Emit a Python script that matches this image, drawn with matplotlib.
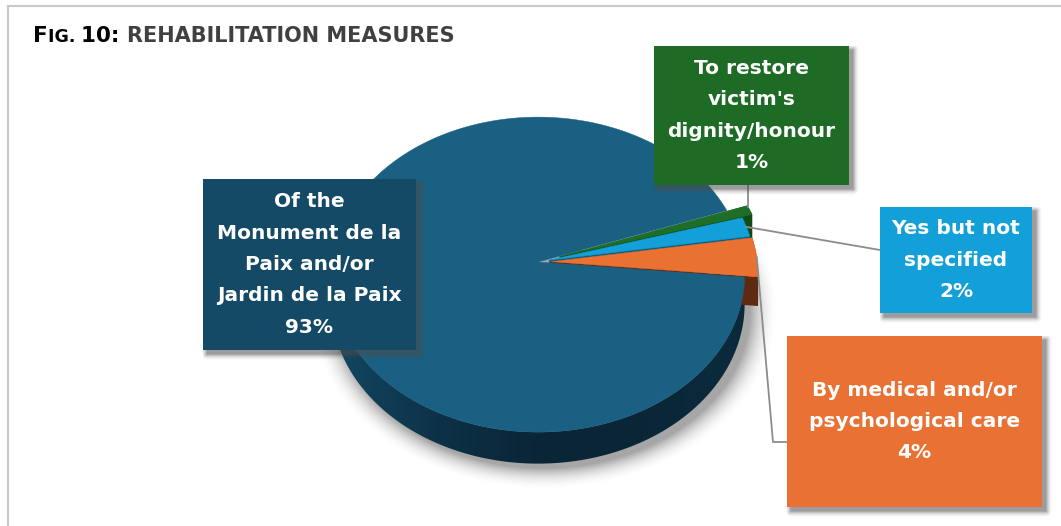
import numpy as np
import matplotlib.pyplot as plt
from matplotlib.patches import Polygon, Rectangle
from matplotlib.colors import LinearSegmentedColormap

plt.rcParams['font.family'] = ['DejaVu Sans']

# rehabilitation measures, counter-clockwise from the right-hand side of the pie
labels = ["By medical and/or\npsychological care",
          "Yes but not\nspecified",
          "To restore\nvictim's\ndignity/honour",
          "Of the\nMonument de la\nPaix and/or\nJardin de la Paix"]
shares = [4, 2, 1, 93]

top_colors = ["#e97132", "#139fd8", "#1e6e28", "#1a6083"]
side_colors = ["#5f2a12", "#0b5f84", "#0f4a17", "#0c3047"]
box_colors = ["#e87133", "#139fd7", "#1d6b25", "#154a66"]
explode = [0.065, 0.055, 0.11, 0]
# label boxes (x0, y0, x1, y1) in pixels
boxes = [(787, 336, 1042, 507), (880, 207, 1032, 313), (654, 46, 849, 185), (203, 179, 416, 350)]

W, H = 1061, 526
fig = plt.figure(figsize=(W / 100, H / 100), dpi=100)
ax = fig.add_axes([0, 0, 1, 1])

# pie centre, radius, tilt, thickness and perspective
CX, CY = 538, 262
A, C, DEPTH, P = 206, 156.5, 29, 0.08
START = -5.5

edges = START + np.concatenate([[0], np.cumsum(shares)]) * 3.6


def proj(X, Y, Z=0.0):
    f = 1 / (1 + P * Y)
    return CX + A * X * f, CY - C * Y * f + Z * DEPTH * f


def centre(i):
    m = np.radians((edges[i] + edges[i + 1]) / 2)
    return explode[i] * np.cos(m), explode[i] * np.sin(m)


def rim(i, t1, t2, n, Z=0.0):
    ox, oy = centre(i)
    ts = np.radians(np.linspace(t1, t2, n))
    return proj(ox + np.cos(ts), oy + np.sin(ts), Z)


def soft_shadow(x0, x1, y0, y1, dist, blur, alpha, z):
    xs = np.arange(x0, x1) + 0.5
    ys = np.arange(y0, y1) + 0.5
    X, Y = np.meshgrid(xs, ys)
    a = alpha * np.clip(1 - dist(X, Y) / blur, 0, 1) ** 2
    img = np.zeros(X.shape + (4,))
    img[..., :3] = 0.3
    img[..., 3] = a
    ax.imshow(img, extent=(x0, x1, y1, y0), origin='upper', zorder=z,
              interpolation='bilinear', aspect='auto')


# shadow under the pie
def pie_dist(X, Y):
    rho = np.hypot((X - CX - 6) / A, (Y - 275 - DEPTH - 6) / 158)
    return (rho - 1) * 158


soft_shadow(300, 800, 250, 526, pie_dist, 22, 0.5, 1)

# front wall of the large slice, shaded from left to right
xt, yt = rim(3, 180, edges[4], 150)
xb, yb = rim(3, 180, edges[4], 150, 1.0)
wall = Polygon(list(zip(xt, yt)) + list(zip(xb[::-1], yb[::-1])), closed=True,
               facecolor='none', edgecolor='none')
ax.add_patch(wall)
wall_cmap = LinearSegmentedColormap.from_list(
    "wall", ["#134763", "#0d3247", "#0a2536", "#0a2637", "#0b2b3d"])
grad = np.linspace(0, 1, 256)[None, :]
im = ax.imshow(grad, cmap=wall_cmap, extent=(xt.min(), xt.max() + 2, yb.max() + 2, yt.min()),
               origin='upper', aspect='auto', zorder=2, interpolation='bilinear')
im.set_clip_path(wall)

# walls of the pulled-out slices
for i in [2, 1, 0]:
    ox, oy = centre(i)
    xt, yt = rim(i, edges[i], edges[i + 1], 12)
    xb, yb = rim(i, edges[i], edges[i + 1], 12, 1.0)
    band = list(zip(xt, yt)) + list(zip(xb[::-1], yb[::-1]))
    ax.add_patch(Polygon(band, closed=True, facecolor=side_colors[i],
                         edgecolor='none', zorder=3))
    c0, c1 = proj(ox, oy), proj(ox, oy, 1.0)
    for k in [0, -1]:
        face = [c0, (xt[k], yt[k]), (xb[k], yb[k]), c1]
        ax.add_patch(Polygon(face, closed=True, facecolor=side_colors[i],
                             edgecolor='none', zorder=3))

# top faces
for i in [3, 2, 1, 0]:
    ox, oy = centre(i)
    xs, ys = rim(i, edges[i], edges[i + 1], 240 if i == 3 else 15)
    pts = [proj(ox, oy)] + list(zip(xs, ys))
    ax.add_patch(Polygon(pts, closed=True, facecolor=top_colors[i],
                         edgecolor=top_colors[i], linewidth=0.3, zorder=4 + (3 - i) * 0.1))

# leader lines from slices to their label boxes
lc = "#8c8c8c"
tips = []
for i in range(3):
    m = (edges[i] + edges[i + 1]) / 2
    x, y = rim(i, m, m, 1)
    tips.append((x[0], y[0]))

gx, gy = rim(2, edges[3] - 0.5, edges[3] - 0.5, 1)
ax.plot([gx[0], gx[0]], [boxes[2][3], gy[0]], color=lc, lw=1.3, zorder=6)
ax.plot([tips[1][0], boxes[1][0]], [tips[1][1], 250], color=lc, lw=1.3, zorder=6)
ax.plot([tips[0][0], 773, boxes[0][0]], [tips[0][1], 442, 442], color=lc, lw=1.3, zorder=6)

# label boxes with soft drop shadows
for i, (x0, y0, x1, y1) in enumerate(boxes):
    def rect_dist(X, Y, x0=x0 + 4, y0=y0 + 4, x1=x1 + 4, y1=y1 + 4):
        dx = np.maximum(np.maximum(x0 - X, X - x1), 0)
        dy = np.maximum(np.maximum(y0 - Y, Y - y1), 0)
        return np.hypot(dx, dy)
    soft_shadow(x0, x1 + 14, y0, y1 + 14, rect_dist, 7, 0.55, 7)
    ax.add_patch(Rectangle((x0, y0), x1 - x0, y1 - y0, facecolor=box_colors[i],
                           edgecolor='none', zorder=8))
    ax.text((x0 + x1) / 2, (y0 + y1) / 2, f"{labels[i]}\n{shares[i]}%",
            ha='center', va='center', color='white', fontsize=14.5, fontweight='bold',
            linespacing=1.82, zorder=9)

# title in small caps style
r = fig.canvas.get_renderer()
x = 33
for s, size, col in [("F", 15.5, "black"), ("IG. ", 12.5, "black"), ("10: ", 15.5, "black"),
                     ("REHABILITATION MEASURES", 15, "#404040")]:
    t = ax.text(x, 42, s, fontsize=size, fontweight='bold', color=col,
                ha='left', va='baseline', zorder=9)
    x += t.get_window_extent(r).width

# chart frame
ax.plot([7.5, 7.5], [H, 5.5], color="#c8c8c8", lw=1.5, zorder=9)
ax.plot([7.5, W], [5.5, 5.5], color="#c8c8c8", lw=1.5, zorder=9)

ax.set_xlim(0, W)
ax.set_ylim(H, 0)
ax.axis('off')
fig.savefig("out.png", dpi=100)
